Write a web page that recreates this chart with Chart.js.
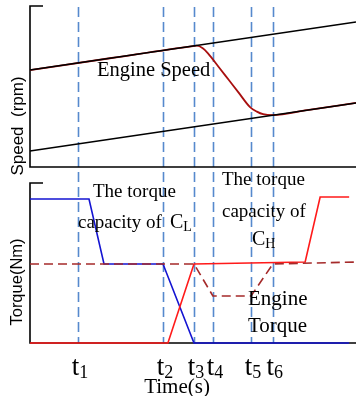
<!DOCTYPE html>
<html>
<head>
<meta charset="utf-8">
<script src="https://cdn.jsdelivr.net/npm/chart.js@4.4.1/dist/chart.umd.min.js"></script>
<style>
  html, body { margin: 0; padding: 0; background: #fff; overflow: hidden; }
  #wrap { position: relative; width: 356px; height: 396px; }
  canvas { position: absolute; left: 0; }
  #speedChart { top: 0; }
  #torqueChart { top: 170px; }
</style>
</head>
<body>
<div id="wrap">
  <canvas id="speedChart" width="356" height="182"></canvas>
  <canvas id="torqueChart" width="356" height="226"></canvas>
</div>
<script>
// Shift phase instants t1..t6 (s)
const shiftTimes = [1.47, 4.08, 5.03, 5.61, 6.78, 7.45];
const shiftLabels = ['1', '2', '3', '4', '5', '6'];

// Speed panel (rpm)
const gearTime = [0, 10];
const lowGearSpeed = [602, 901];
const highGearSpeed = [99, 398];
const engineSpeedTime = [0, 2.5, 5.0, 5.12, 5.3, 5.46, 5.8, 6.1, 6.4, 6.75, 6.96, 7.15, 7.45, 8.5, 10];
const engineSpeed = [602, 677, 751, 754, 738, 706, 618, 540, 462, 372, 344, 328, 322, 353, 398];

// Torque panel (Nm)
const capLowTime = [0, 1.81, 2.27, 4.08, 5.03, 9.79];
const capLow = [90, 90, 49.4, 49.4, 0, 0];
const capHighTime = [0, 4.23, 5.03, 8.44, 8.9, 9.79];
const capHigh = [0, 0, 49.4, 50.6, 91.25, 91.25];
const engineTorqueTime = [0, 5.03, 5.61, 6.78, 7.45, 10];
const engineTorque = [49.4, 49.4, 29.4, 29.4, 49.4, 50.6];

const SERIF = "'Liberation Serif', 'Times New Roman', serif";
const SANS = "'Liberation Sans', Arial, sans-serif";
const DASH_BLUE = '#5689cd';
const PANEL_GAP_Y = 170; // page y where the torque canvas begins

const pts = (xs, ys) => xs.map((x, i) => ({ x, y: ys[i] }));

function lineSet(xs, ys, color, extra) {
  return Object.assign({
    data: pts(xs, ys),
    borderColor: color,
    borderWidth: 1.6,
    pointRadius: 0,
    fill: false,
    tension: 0,
    clip: 6
  }, extra || {});
}

// text with a lowered, smaller suffix (C_L, t_1 ...)
function subText(ctx, x, y, main, sub, size, subSize, drop) {
  ctx.font = size + 'px ' + SERIF;
  const w = ctx.measureText(main).width;
  ctx.fillText(main, x, y);
  ctx.font = subSize + 'px ' + SERIF;
  ctx.fillText(sub, x + w, y + drop);
  return w + ctx.measureText(sub).width;
}

function drawFrame(chart) {
  const { ctx, chartArea: a } = chart;
  ctx.save();
  ctx.strokeStyle = '#000';
  ctx.lineWidth = 1.6;
  ctx.beginPath();
  ctx.moveTo(a.left + 13, a.top);
  ctx.lineTo(a.left, a.top);
  ctx.lineTo(a.left, a.bottom);
  ctx.lineTo(a.right, a.bottom);
  ctx.stroke();
  ctx.restore();
}

function drawShiftLines(chart, y0, y1, offset) {
  const { ctx } = chart;
  const xs = chart.scales.x;
  ctx.save();
  ctx.strokeStyle = DASH_BLUE;
  ctx.lineWidth = 1.6;
  ctx.setLineDash([10, 5]);
  ctx.lineDashOffset = offset;
  shiftTimes.forEach(t => {
    const px = Math.round(xs.getPixelForValue(t)) + 0.5;
    ctx.beginPath();
    ctx.moveTo(px, y0);
    ctx.lineTo(px, y1);
    ctx.stroke();
  });
  ctx.restore();
}

function rotatedTitle(ctx, text, x, y, size) {
  ctx.save();
  ctx.translate(x, y);
  ctx.rotate(-Math.PI / 2);
  ctx.font = size + 'px ' + SANS;
  ctx.fillStyle = '#000';
  ctx.textAlign = 'center';
  ctx.textBaseline = 'middle';
  ctx.fillText(text, 0, 0);
  ctx.restore();
}

// ---------- speed panel ----------
new Chart(document.getElementById('speedChart'), {
  type: 'line',
  data: {
    datasets: [
      lineSet(gearTime, lowGearSpeed, '#000'),
      lineSet(gearTime, highGearSpeed, '#000'),
      lineSet(engineSpeedTime, engineSpeed, '#a80f0f', { cubicInterpolationMode: 'monotone', borderWidth: 1.8 })
    ]
  },
  options: {
    responsive: false,
    animation: false,
    events: [],
    layout: { padding: { left: 30, top: 6, right: 0, bottom: 15 } },
    plugins: { legend: { display: false }, tooltip: { enabled: false } },
    scales: {
      x: { type: 'linear', min: 0, max: 10, display: false },
      y: { min: 0, max: 1000, display: false }
    }
  },
  plugins: [{
    id: 'speedDecor',
    beforeDatasetsDraw(chart) {
      drawShiftLines(chart, chart.chartArea.top + 1, PANEL_GAP_Y, 0);
      drawFrame(chart);
    },
    afterDatasetsDraw(chart) {
      const { ctx } = chart;
      ctx.save();
      ctx.fillStyle = '#000';
      ctx.textBaseline = 'alphabetic';
      ctx.font = '20.5px ' + SERIF;
      ctx.fillText('Engine Speed', 97, 76);
      ctx.restore();
      rotatedTitle(ctx, 'Speed  (rpm)', 18, 126, 17);
    }
  }]
});

// ---------- torque panel ----------
new Chart(document.getElementById('torqueChart'), {
  type: 'line',
  data: {
    datasets: [
      lineSet(engineTorqueTime, engineTorque, '#a52a2a', { borderDash: [9, 5], borderWidth: 1.6 }),
      lineSet(capHighTime, capHigh, '#ff1a1a'),
      lineSet(capLowTime, capLow, '#1414d2')
    ]
  },
  options: {
    responsive: false,
    animation: false,
    events: [],
    layout: { padding: { left: 30, top: 13, right: 0, bottom: 53 } },
    plugins: { legend: { display: false }, tooltip: { enabled: false } },
    scales: {
      x: { type: 'linear', min: 0, max: 10, display: false },
      y: { min: 0, max: 100, display: false }
    }
  },
  plugins: [{
    id: 'torqueDecor',
    beforeDatasetsDraw(chart) {
      drawShiftLines(chart, 0, chart.chartArea.bottom, (PANEL_GAP_Y - 7) % 15);
      drawFrame(chart);
    },
    afterDatasetsDraw(chart) {
      const { ctx } = chart;
      const xs = chart.scales.x;
      ctx.save();
      ctx.fillStyle = '#000';
      ctx.textBaseline = 'alphabetic';
      ctx.textAlign = 'left';

      // clutch annotations (y relative to this canvas)
      ctx.font = '19px ' + SERIF;
      ctx.fillText('The torque', 93, 27);
      ctx.fillText('capacity of', 78, 58);
      subText(ctx, 170, 58, 'C', 'L', 20, 14, 3);

      ctx.font = '19px ' + SERIF;
      ctx.fillText('The torque', 222, 15);
      ctx.fillText('capacity of', 222, 47);
      subText(ctx, 252, 75, 'C', 'H', 20, 14, 3);

      ctx.font = '21px ' + SERIF;
      ctx.fillText('Engine', 248, 135);
      ctx.fillText('Torque', 248, 162);

      // time axis tick labels t1..t6
      shiftTimes.forEach((t, i) => {
        const px = xs.getPixelForValue(t);
        ctx.font = '27px ' + SERIF;
        const w1 = ctx.measureText('t').width;
        ctx.font = '18px ' + SERIF;
        const w2 = ctx.measureText(shiftLabels[i]).width;
        subText(ctx, px + 2 - (w1 + w2) / 2, 205, 't', shiftLabels[i], 27, 18, 3);
      });

      ctx.font = '21px ' + SERIF;
      ctx.textAlign = 'center';
      ctx.fillText('Time(s)', 177, 223);
      ctx.restore();

      rotatedTitle(ctx, 'Torque(Nm)', 17, 112, 16.5);
    }
  }]
});
</script>
</body>
</html>
